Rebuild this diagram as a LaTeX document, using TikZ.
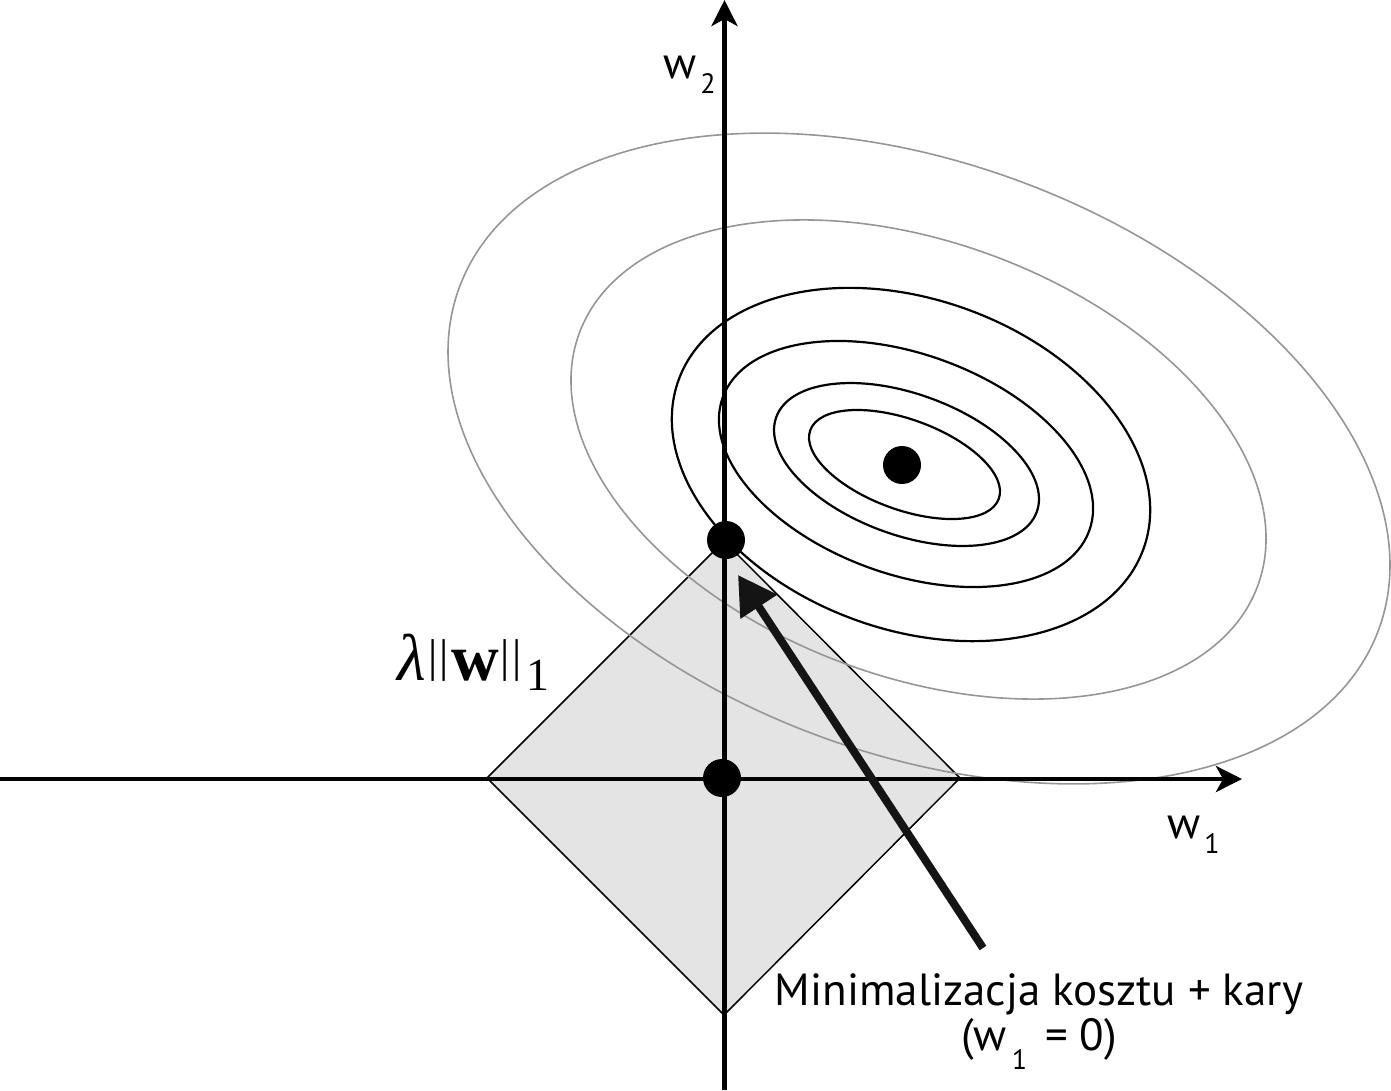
\documentclass[tikz,border=0pt]{standalone}
\usepackage{fontspec}
\setmainfont{PT Sans}
\newfontfamily\timesf{Liberation Serif}
\usetikzlibrary{arrows.meta}
\definecolor{diamondgray}{RGB}{228,228,228}
\definecolor{ellgray}{RGB}{150,150,150}
\newcommand{\tightlines}{\lineskiplimit=-100pt\relax}
\begin{document}
\begin{tikzpicture}[x=1pt,y=-1pt,
  axis/.style={line width=4.5pt, -{Stealth[length=26pt,width=26pt,inset=7pt]}},
  grayell/.style={draw=ellgray, line width=1.6pt},
  blackell/.style={draw=black, line width=2.2pt},
  dot/.style={circle, fill=black, inner sep=0pt, minimum size=38pt},
  lbl/.style={font=\fontsize{45}{45}\selectfont, inner sep=0pt},
  bigarrow/.style={line width=8pt, draw=black!92, -{Triangle[length=38pt,width=42pt]}},
]
\useasboundingbox (0,0) rectangle (1391,1090);
% diamond
\coordinate (dl) at (487,778);
\coordinate (dt) at (724,541);
\coordinate (dr) at (960,778);
\coordinate (db) at (724,1015);
\draw[fill=diamondgray, line width=1.5pt] (dl) -- (dt) -- (dr) -- (db) -- cycle;
% ellipses
\draw[grayell, rotate around={-20.5:(919,458.5)}] (919,458.5) ellipse [x radius=490.5, y radius=295];
\draw[grayell, rotate around={-20.5:(918.5,459.5)}] (918.5,459.5) ellipse [x radius=362, y radius=217];
\draw[blackell, rotate around={-20:(911,464.5)}] (911,464.5) ellipse [x radius=247.3, y radius=165];
\draw[blackell, rotate around={-20:(906,464)}] (906,464) ellipse [x radius=195, y radius=110];
\draw[blackell, rotate around={-20:(906.5,464.5)}] (906.5,464.5) ellipse [x radius=138.6, y radius=70.5];
\draw[blackell, rotate around={-20:(904.5,464.5)}] (904.5,464.5) ellipse [x radius=100.3, y radius=45.1];
% axes
\coordinate (xL) at (0,779);
\coordinate (xR) at (1242,779);
\coordinate (yB) at (724.5,1090);
\coordinate (yT) at (724.5,0);
\draw[axis] (xL) -- (xR);
\draw[axis] (yB) -- (yT);
% dots
\node[dot] (minpt) at (902,465) {};
\node[dot] (sol) at (726,540) {};
\node[dot] (orig) at (722,778) {};
% labels
\node[lbl, anchor=base west] (w2) at (663,78) {w\kern4pt\raisebox{-15pt}{\fontsize{28}{28}\selectfont 2}};
\node[lbl, anchor=base west] (w1) at (1167,838) {w\kern4pt\raisebox{-15pt}{\fontsize{28}{28}\selectfont 1}};
\node[anchor=base west, inner sep=0pt, font=\timesf\fontsize{66}{66}\selectfont] (lam) at (397,680)
  {\textit{λ}\kern3pt{\fontsize{46}{46}\selectfont\raisebox{9pt}{|\kern2pt|}}\kern2pt\textbf{w}\kern2pt{\fontsize{46}{46}\selectfont\raisebox{9pt}{|\kern2pt|}}\kern5pt\raisebox{-10pt}{\fontsize{46}{46}\selectfont 1}};
\node[anchor=base, inner sep=0pt, align=center, font=\fontsize{45}{45}\selectfont\tightlines] (cap) at (1039,1050)
  {Minimalizacja kosztu + kary\\(w\kern5pt\raisebox{-19pt}{\fontsize{28}{28}\selectfont 1}\kern6pt{} = 0)};
% arrow
\coordinate (tail) at (983,948);
\coordinate (tip) at (738,575);
\draw[bigarrow] (tail) -- (tip);
\end{tikzpicture}
\end{document}
